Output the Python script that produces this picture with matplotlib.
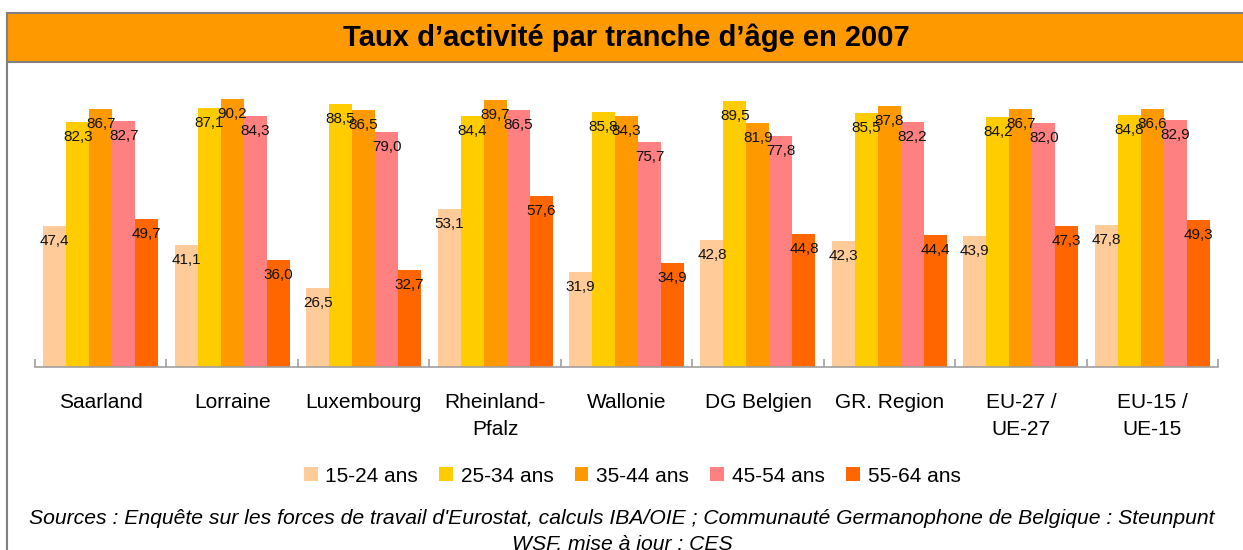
import numpy as np
import matplotlib.pyplot as plt
from matplotlib.patches import Rectangle, Patch
from matplotlib.lines import Line2D
plt.switch_backend("agg")

plt.rcParams["font.family"] = ["Liberation Sans", "DejaVu Sans"]

regions = ["Saarland", "Lorraine", "Luxembourg", "Rheinland-\nPfalz", "Wallonie",
           "DG Belgien", "GR. Region", "EU-27 /\nUE-27", "EU-15 /\nUE-15"]
age_groups = ["15-24 ans", "25-34 ans", "35-44 ans", "45-54 ans", "55-64 ans"]
colors = ["#FFCC99", "#FFCC00", "#FF9900", "#FF8080", "#FF6600"]

v_15_24 = [47.4, 41.1, 26.5, 53.1, 31.9, 42.8, 42.3, 43.9, 47.8]
v_25_34 = [82.3, 87.1, 88.5, 84.4, 85.8, 89.5, 85.5, 84.2, 84.8]
v_35_44 = [86.7, 90.2, 86.5, 89.7, 84.3, 81.9, 87.8, 86.7, 86.6]
v_45_54 = [82.7, 84.3, 79.0, 86.5, 75.7, 77.8, 82.2, 82.0, 82.9]
v_55_64 = [49.7, 36.0, 32.7, 57.6, 34.9, 44.8, 44.4, 47.3, 49.3]
series = [v_15_24, v_25_34, v_35_44, v_45_54, v_55_64]

W, H = 1243, 550
fig = plt.figure(figsize=(W / 100, H / 100), dpi=100)

# frame + title band (pixel coords -> figure fraction)
def fx(px): return px / W
def fy(py): return 1 - py / H

fig.patches.append(Rectangle((fx(7), fy(62)), 1.0, fy(13) - fy(62), transform=fig.transFigure,
                             facecolor="#FF9900", edgecolor="none", zorder=0))
gray = "#808080"
fig.add_artist(Line2D([fx(7), 1.0], [fy(13), fy(13)], color=gray, lw=1.5, transform=fig.transFigure))
fig.add_artist(Line2D([fx(7), 1.0], [fy(62), fy(62)], color=gray, lw=1.5, transform=fig.transFigure))
fig.add_artist(Line2D([fx(7), fx(7)], [0, fy(13)], color=gray, lw=1.5, transform=fig.transFigure))

fig.text(fx(626), fy(38), "Taux d\u2019activit\u00e9 par tranche d\u2019\u00e2ge en 2007",
         ha="center", va="center", fontsize=21, fontweight="bold")

# plot area
ax = fig.add_axes([fx(35), fy(367), fx(1218) - fx(35), fy(69.5) - fy(367)])
n = len(regions)
x = np.arange(n)
bw = 0.175
for i, (vals, c, lab) in enumerate(zip(series, colors, age_groups)):
    pos = x + (i - 2) * bw
    ax.bar(pos, vals, width=bw, color=c, label=lab, zorder=2)
    for xp, v in zip(pos, vals):
        ax.annotate(f"{v:.1f}".replace(".", ","), (xp, v), xytext=(0, -15),
                    textcoords="offset pixels", ha="center", va="center", fontsize=11,
                    color="#111111", zorder=3)

ax.set_xlim(-0.5, n - 0.5)
ax.set_ylim(0, 100)
ax.set_yticks([])
for s in ["top", "right", "left"]:
    ax.spines[s].set_visible(False)
ax.spines["bottom"].set_color("#A0A0A0")
ax.spines["bottom"].set_linewidth(1.2)

ax.set_xticks(np.arange(n + 1) - 0.5, minor=True)
ax.set_xticks(x)
ax.set_xticklabels(regions, fontsize=15, linespacing=1.5)
ax.tick_params(axis="x", which="major", length=0, pad=19)
ax.tick_params(axis="x", which="minor", direction="in", length=6, color="#A0A0A0", width=1.2)

handles = [Patch(facecolor=c, edgecolor="none") for c in colors]
fig.legend(handles, age_groups, loc="center", bbox_to_anchor=(fx(632), fy(476)), ncol=5,
           frameon=False, fontsize=15, handlelength=0.67, handleheight=0.67,
           handletextpad=0.38, columnspacing=1.0, borderpad=0)

fig.text(fx(622), fy(519), "Sources : Enqu\u00eate sur les forces de travail d'Eurostat, calculs IBA/OIE ; "
         "Communaut\u00e9 Germanophone de Belgique : Steunpunt",
         ha="center", va="center", fontsize=15.2, style="italic")
fig.text(fx(622), fy(544), "WSF, mise \u00e0 jour : CES",
         ha="center", va="center", fontsize=15.2, style="italic")

fig.savefig("out.png", dpi=100)
plt.close(fig)
